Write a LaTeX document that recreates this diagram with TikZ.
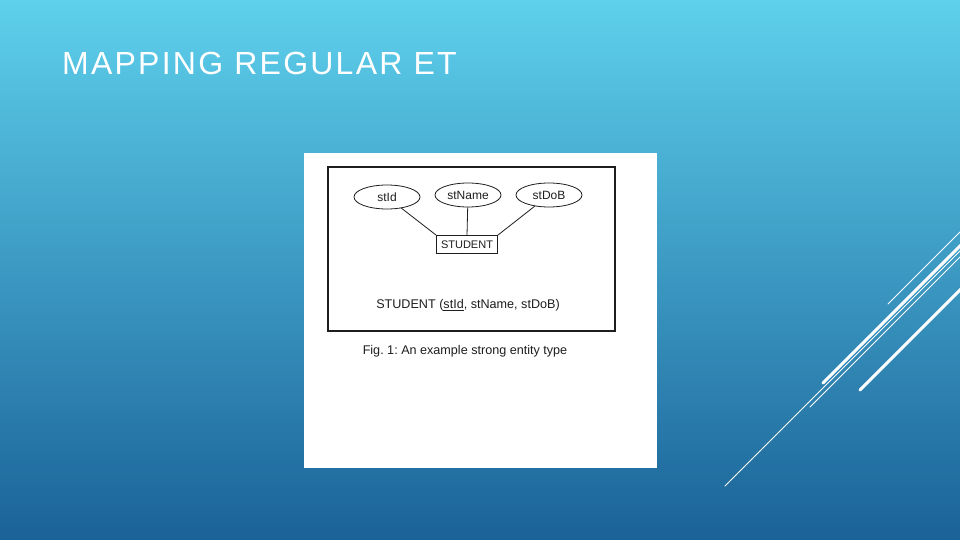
\documentclass[tikz,border=0pt]{standalone}
\usepackage{fontspec}
\setmainfont{Liberation Sans}
\usetikzlibrary{positioning}
\usetikzlibrary{shapes.geometric}
\definecolor{skytop}{RGB}{94, 208, 236}
\definecolor{deepsea}{RGB}{26, 98, 152}
\definecolor{inkgray}{RGB}{30, 30, 30}
\frenchspacing

\begin{document}
\begin{tikzpicture}[x=1pt, y=-1pt,
        attr/.style={draw=inkgray, ellipse, line width=0.8pt, minimum width=66pt, minimum height=24pt, inner sep=0pt, text=inkgray, font=\fontsize{12}{14}\selectfont},
        entity/.style={draw=inkgray, rectangle, line width=0.8pt, minimum width=61pt, minimum height=18pt, inner sep=1pt, text=inkgray, font=\fontsize{11}{13}\selectfont},
        figtext/.style={text=inkgray, inner sep=0pt, font=\fontsize{12.6}{15}\selectfont},
        slash/.style={white, line cap=round}]
            \useasboundingbox (0,0) rectangle (960,540);
            \clip (0,0) rectangle (960,540);
            \shade[top color=skytop, bottom color=deepsea] (0,0) rectangle (960,540);
            \node[anchor=base west, inner sep=0pt, text=white, font=\fontsize{32}{38}\addfontfeatures{LetterSpace=7}\selectfont] (title) at (62,75) {MAPPING REGULAR ET};
            % the scanned figure
            \fill[white] (304,153) rectangle (657,468);
            \draw[inkgray, line width=1.6pt] (328,167) rectangle (615,331);
            \node[attr] (stid)    at (387,197) {stId};
            \node[attr] (stname)  at (468,195) {stName};
            \node[attr] (stdob)   at (549,195) {stDoB};
            \node[entity] (student) at (467,244.5) {STUDENT};
            \draw[inkgray, line width=0.8pt] (stid)   -- (student.north west);
            \draw[inkgray, line width=0.8pt] (stname) -- (student.north);
            \draw[inkgray, line width=0.8pt] (stdob)  -- (student.north east);
            \node[figtext] (relation) at (468,305) {STUDENT (\underline{stId}, stName, stDoB)};
            \node[figtext] (caption)  at (465,351) {Fig. 1: An example strong entity type};
            % slashes in the corner
            \draw[slash, line width=0.8pt] (888,304) -- (962,230);
            \draw[slash, line width=0.8pt] (725,486) -- (962,249);
            \draw[slash, line width=3pt]   (823,383) -- (962,244);
            \draw[slash, line width=0.8pt] (810,407) -- (962,255);
            \draw[slash, line width=3pt]   (860,390) -- (962,288);
        \end{tikzpicture}
\end{document}
